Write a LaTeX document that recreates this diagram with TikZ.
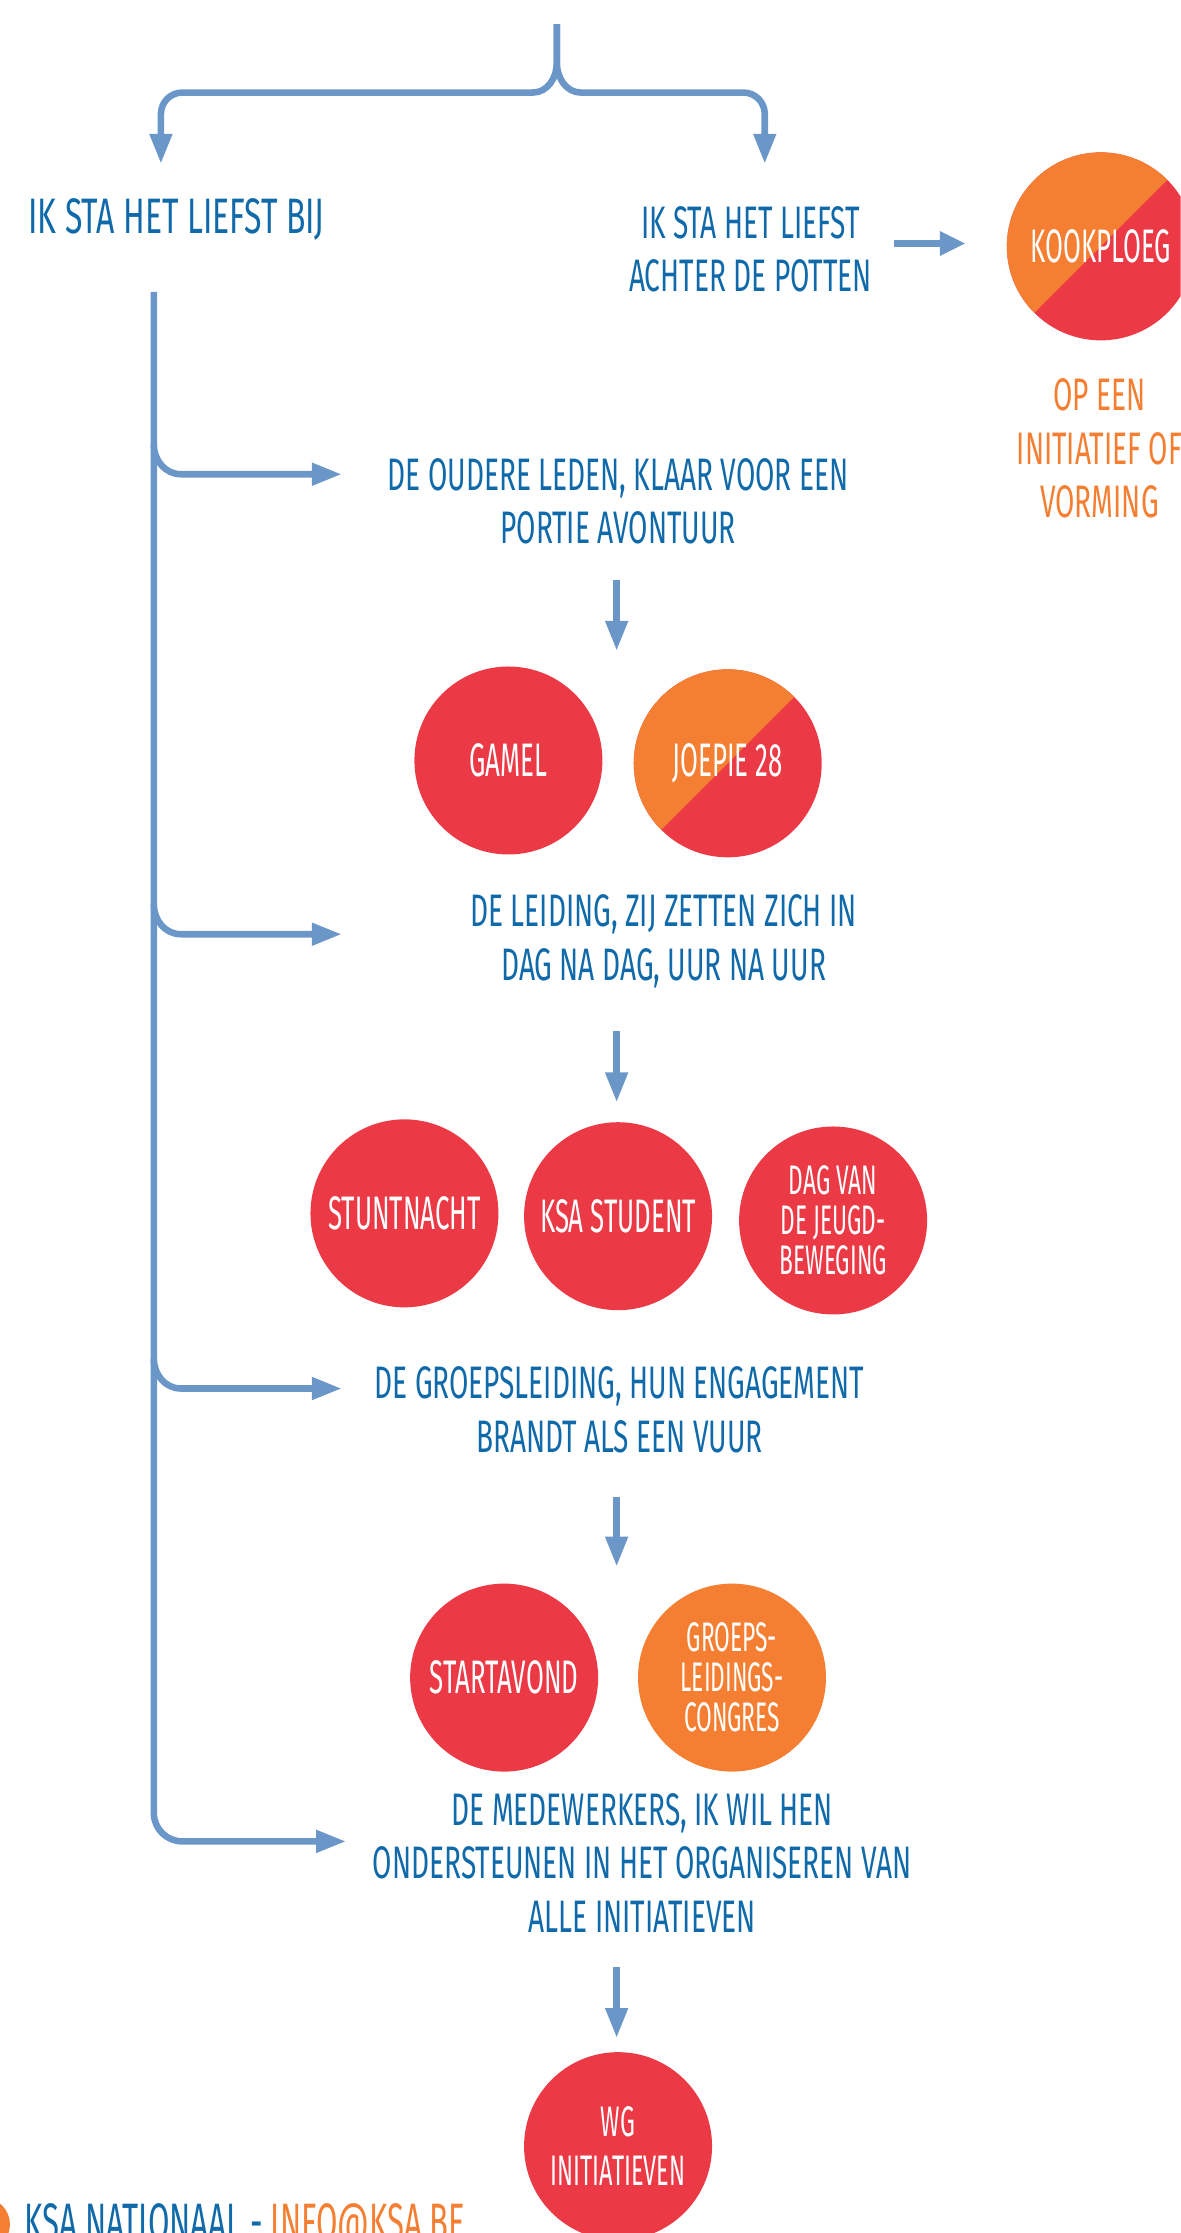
\documentclass[tikz,border=0pt]{standalone}
\usepackage{fontspec}
\setmainfont{Fira Sans}
\newfontfamily\handfont[FakeStretch=0.55]{Fira Sans}
\newfontfamily\lblhand[FakeStretch=0.615]{Fira Sans}
\newfontfamily\bighand[FakeStretch=0.64]{Fira Sans}
\newfontfamily\foothand[FakeStretch=0.59]{Fira Sans}
\usetikzlibrary{arrows.meta}
\definecolor{tblue}{HTML}{106AAA}
\definecolor{ablue}{HTML}{6A96C8}
\definecolor{kred}{HTML}{EB3A45}
\definecolor{korange}{HTML}{F47F32}
\newcommand{\lblsize}{\lblhand\fontsize{32}{37.5}\selectfont}
\newcommand{\bigsize}{\bighand\fontsize{35}{40}\selectfont}
\newcommand{\dotsize}{\handfont\fontsize{33}{36}\selectfont}
\newcommand{\smallsize}{\handfont\fontsize{29}{28}\selectfont}
\newcommand{\wgsize}{\handfont\fontsize{30}{34.5}\selectfont}
\newcommand{\footsize}{\foothand\fontsize{37}{40}\selectfont}
\begin{document}
\begin{tikzpicture}[x=1pt,y=-1pt,
  pipe/.style={draw=ablue, line width=4.6pt, line join=round, -{Triangle[length=21pt,width=15pt]}},
  lbl/.style={text=tblue, align=center, font=\lblsize, inner sep=0pt},
  dot/.style={circle, fill=kred, minimum size=132pt, inner sep=0pt, text=white, align=center, font=\dotsize},
  odot/.style={dot, fill=korange},
  split/.style={dot, path picture={\fill[korange] (path picture bounding box.north west) -- (path picture bounding box.north east) -- (path picture bounding box.south west) -- cycle;}}
]
\useasboundingbox (0,0) rectangle (829,1568);
\clip (0,0) rectangle (829,1568);

% labels
\node[lbl, font=\bigsize] (bij) at (124,154) {IK STA HET LIEFST BIJ};
\node[lbl] (potten) at (527,175) {IK STA HET LIEFST\\ACHTER DE POTTEN};
\node[split] (kook) at (773,173) {KOOKPLOEG};
\node[lbl, text=korange] (opeen) at (772,315) {OP EEN\\INITIATIEF OF\\VORMING};
\node[lbl] (oudere) at (434,352) {DE OUDERE LEDEN, KLAAR VOOR EEN\\PORTIE AVONTUUR};
\node[dot] (gamel) at (357,534) {GAMEL};
\node[split] (joepie) at (511,536) {JOEPIE 28};
\node[lbl] (leiding) at (466,661) {DE LEIDING, ZIJ ZETTEN ZICH IN\\DAG NA DAG, UUR NA UUR};
\node[dot] (stunt) at (284,852) {STUNTNACHT};
\node[dot] (student) at (434,854) {KSA STUDENT};
\node[dot, font=\smallsize] (dag) at (585,857) {DAG VAN\\DE JEUGD-\\BEWEGING};
\node[lbl] (groepsl) at (435,990) {DE GROEPSLEIDING, HUN ENGAGEMENT\\BRANDT ALS EEN VUUR};
\node[dot] (start) at (354,1178) {STARTAVOND};
\node[odot, font=\smallsize] (congres) at (514,1178) {GROEPS-\\LEIDINGS-\\CONGRES};
\node[lbl] (medew) at (451,1308) {DE MEDEWERKERS, IK WIL HEN\\ONDERSTEUNEN IN HET ORGANISEREN VAN\\ALLE INITIATIEVEN};
\node[dot, font=\wgsize] (wg) at (434,1507) {WG\\INITIATIEVEN};

% footer
\fill[korange] (-12,1562) circle (19);
\node[anchor=base west, text=tblue, font=\footsize, inner sep=0pt] (foot) at (17,1573) {KSA NATIONAAL - \textcolor{korange}{INFO@KSA.BE}};

% coordinates
\coordinate (top) at (391,17);
\coordinate (tl) at (113,115);
\coordinate (tr) at (537,115);
\coordinate (k1) at (628,171);
\coordinate (k2) at (678,171);
\coordinate (trunk) at (108,205);
\coordinate (b1) at (240,333);
\coordinate (b2) at (240,656);
\coordinate (b3) at (240,975);
\coordinate (b4) at (243,1293);
\coordinate (d1a) at (433,407); \coordinate (d1b) at (433,457);
\coordinate (d2a) at (433,724); \coordinate (d2b) at (433,774);
\coordinate (d3a) at (433,1051); \coordinate (d3b) at (433,1100);
\coordinate (d4a) at (433,1381); \coordinate (d4b) at (433,1431);

% top brace
\draw[pipe] (top) -- (391,44) to[out=-90,in=0] (374,65) -- (128,65) to[out=180,in=90] (113,80) -- (tl);
\draw[pipe] (top) -- (391,44) to[out=-90,in=180] (408,65) -- (522,65) to[out=0,in=90] (537,80) -- (tr);
\draw[pipe, line width=5pt, -{Triangle[length=18pt,width=16pt]}] (k1) -- (k2);

% trunk and branches
\draw[pipe] (trunk) -- (108,1273) to[out=-90,in=180] (128,1293) -- (b4);
\draw[pipe] (108,312) to[out=-90,in=180] (127,333) -- (b1);
\draw[pipe] (108,635) to[out=-90,in=180] (127,656) -- (b2);
\draw[pipe] (108,954) to[out=-90,in=180] (127,975) -- (b3);

% down arrows
\draw[pipe] (d1a) -- (d1b);
\draw[pipe] (d2a) -- (d2b);
\draw[pipe] (d3a) -- (d3b);
\draw[pipe] (d4a) -- (d4b);
\end{tikzpicture}
\end{document}
